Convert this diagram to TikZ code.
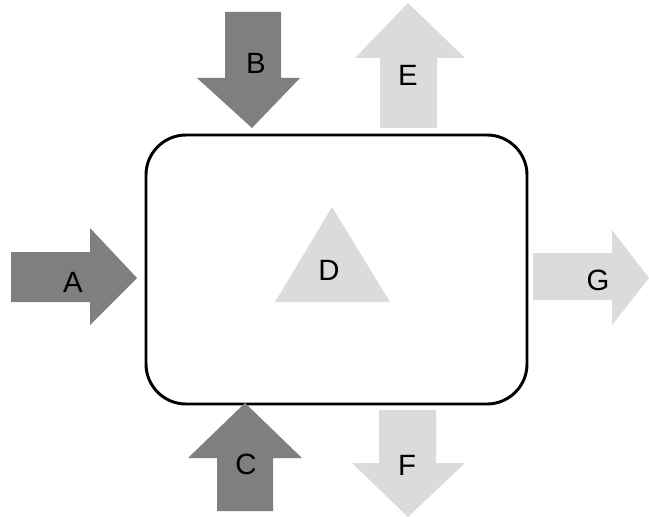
\documentclass[tikz,border=0pt]{standalone}
\usepackage{fontspec}
\setmainfont{Liberation Sans}
\definecolor{darkarrow}{HTML}{7F7F7F}
\definecolor{lightarrow}{HTML}{DCDADA}
\begin{document}
\begin{tikzpicture}[x=0.75pt,y=-0.75pt,
  lbl/.style={font=\fontsize{22}{24}\selectfont, inner sep=0pt},
  dark/.style={fill=darkarrow, draw=none},
  light/.style={fill=lightarrow, draw=none}]
\useasboundingbox (0,0) rectangle (649,517);
% main box
\node[draw=black, line width=2.2pt, rounded corners=30pt, minimum width=381*0.75pt, minimum height=269*0.75pt, inner sep=0pt] (box) at (336.5,269.5) {};
% A (in, left)
\fill[dark] (11,252) -- (90,252) -- (90,228) -- (137,278) -- (90,325) -- (90,302) -- (11,302) -- cycle;
% B (in, top)
\fill[dark] (225,12) -- (281,12) -- (281,78) -- (300,78) -- (252,128) -- (197,78) -- (225,78) -- cycle;
% C (in, bottom)
\fill[dark] (217,511) -- (273,511) -- (273,458) -- (302,458) -- (245,403) -- (188,458) -- (217,458) -- cycle;
% E (out, top)
\fill[light] (380,128) -- (437,128) -- (437,58) -- (465,58) -- (408,3) -- (355,58) -- (380,58) -- cycle;
% F (out, bottom)
\fill[light] (379,410) -- (436,410) -- (436,463) -- (465,463) -- (408,517) -- (352,463) -- (379,463) -- cycle;
% G (out, right)
\fill[light] (533,253) -- (612,253) -- (612,230) -- (649,278) -- (612,325) -- (612,300) -- (533,300) -- cycle;
% D triangle
\fill[light] (332,207) -- (390,302) -- (275,302) -- cycle;
% labels
\node[lbl] (la) at (73,282) {A};
\node[lbl] (lb) at (256,63) {B};
\node[lbl] (lc) at (246,464) {C};
\node[lbl] (ld) at (329,270) {D};
\node[lbl] (le) at (408,75) {E};
\node[lbl] (lf) at (407,465) {F};
\node[lbl] (lg) at (598,280) {G};
\end{tikzpicture}
\end{document}
